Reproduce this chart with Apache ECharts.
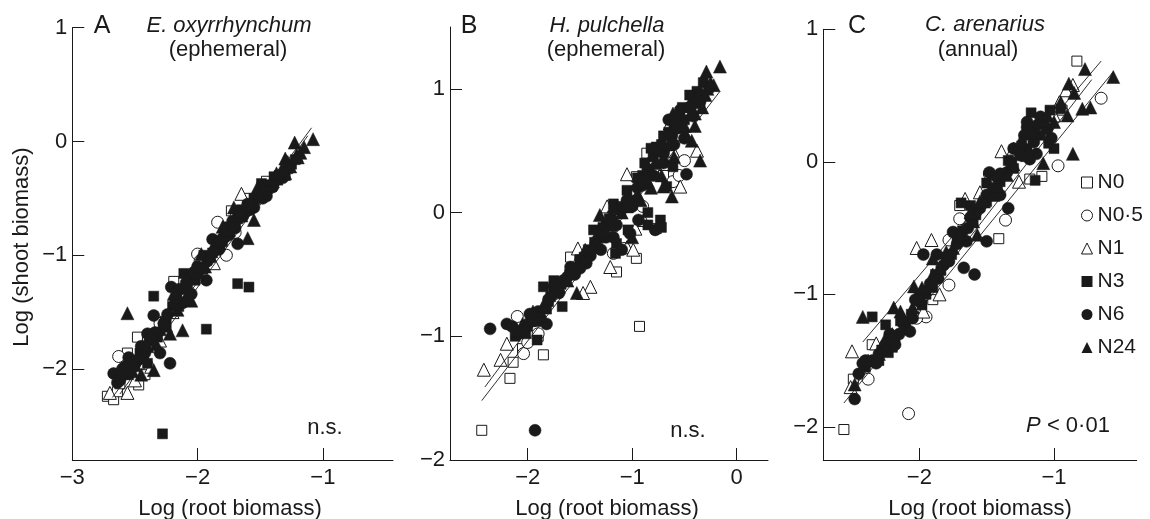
<!DOCTYPE html>
<html><head><meta charset="utf-8">
<script src="https://cdn.jsdelivr.net/npm/echarts@6/dist/echarts.min.js"></script>
<style>html,body{margin:0;padding:0;background:#fff}#c{width:1150px;height:519px}</style>
</head><body><div id="c"></div>
<script>
// ---------- DATA ----------
const seriesNames = ['N0', 'N0·5', 'N1', 'N3', 'N6', 'N24'];

// Panel A: E. oxyrrhynchum
const A_N0 = [[-2.72,-2.24],[-2.67,-2.27],[-2.64,-2.2],[-2.62,-2.13],[-2.56,-1.86],[-2.48,-1.72],[-2.47,-2.14],[-2.42,-2.05],[-2.4,-1.8],[-2.3,-1.6],[-2.19,-1.23],[-2.1,-1.3],[-1.95,-1.05],[-1.73,-0.61],[-1.6,-0.5],[-1.45,-0.35]];
const A_N05 = [[-2.63,-1.89],[-2.55,-2.0],[-2.45,-1.95],[-2.3,-1.6],[-2.0,-0.99],[-1.98,-1.05],[-1.84,-0.71],[-1.77,-1.0],[-1.7,-0.8],[-1.6,-0.6],[-2.15,-1.4],[-1.5,-0.45]];
const A_N1 = [[-2.7,-2.21],[-2.56,-2.21],[-2.5,-2.1],[-2.37,-1.98],[-2.3,-1.75],[-2.1,-1.35],[-1.87,-1.07],[-1.65,-0.46],[-1.7,-0.62],[-1.55,-0.5],[-1.4,-0.35],[-2.2,-1.5]];
const A_N3 = [[-2.28,-2.57],[-2.35,-1.36],[-1.93,-1.65],[-1.68,-1.25],[-1.59,-1.28],[-2.46,-1.86],[-2.4,-1.95],[-2.25,-1.6],[-2.11,-1.16],[-2.05,-1.2],[-1.95,-1.0],[-1.85,-0.9],[-1.75,-0.75],[-1.65,-0.6],[-1.49,-0.37],[-1.42,-0.4],[-1.39,-0.31],[-1.3,-0.3],[-2.55,-2.05],[-2.2,-1.45],[-2.5,-1.98],[-2.32,-1.72],[-2.15,-1.45],[-2.0,-1.15],[-1.9,-1.02],[-1.8,-0.88],[-1.7,-0.72],[-1.55,-0.5],[-1.45,-0.42],[-1.35,-0.3],[-1.25,-0.2],
  [-2.58,-2.05],[-2.44,-1.85],[-2.36,-1.72],[-2.26,-1.58],[-2.18,-1.42],[-2.08,-1.3],[-2.02,-1.22],[-1.96,-1.12],[-1.88,-0.98],[-1.82,-0.92],[-1.76,-0.8],[-1.68,-0.68],[-1.6,-0.58],[-1.52,-0.48],[-1.44,-0.38],[-1.36,-0.34],[-1.28,-0.24],[-1.22,-0.16]];
const A_N6 = [[-2.67,-2.04],[-2.6,-2.0],[-2.5,-1.95],[-2.4,-1.69],[-2.35,-1.53],[-2.3,-1.86],[-2.22,-1.95],[-2.21,-1.28],[-2.15,-1.3],[-2.05,-1.34],[-2.0,-1.1],[-1.93,-1.22],[-1.88,-0.86],[-1.8,-0.85],[-1.68,-0.90],[-1.72,-0.7],[-1.6,-0.55],[-1.5,-0.45],[-2.45,-1.8],[-2.55,-1.9],[-2.62,-2.1],[-2.48,-1.92],[-2.38,-1.75],[-2.27,-1.6],[-2.12,-1.42],[-1.97,-1.12],[-1.83,-0.95],[-1.75,-0.82],[-1.62,-0.62],[-1.55,-0.58],[-1.45,-0.48],
  [-2.64,-2.12],[-2.58,-1.98],[-2.52,-1.98],[-2.42,-1.86],[-2.34,-1.68],[-2.24,-1.52],[-2.17,-1.38],[-2.09,-1.24],[-2.03,-1.15],[-1.92,-1.05],[-1.86,-0.95],[-1.78,-0.84],[-1.7,-0.76],[-1.64,-0.66],[-1.58,-0.6],[-1.48,-0.5],[-1.4,-0.4],[-1.32,-0.32]];
const A_N24 = [[-1.225,-0.01],[-1.078,0.02],[-1.21,-0.12],[-1.30,-0.15],[-1.30,-0.28],[-1.35,-0.3],[-1.45,-0.4],[-1.52,-0.40],[-1.55,-0.69],[-1.60,-0.85],[-1.71,-0.58],[-1.8,-0.75],[-1.97,-0.99],[-2.19,-1.34],[-2.12,-1.66],[-2.22,-1.69],[-2.35,-2.01],[-2.56,-1.51],[-2.45,-2.05],[-2.05,-1.4],[-1.9,-1.0],[-1.65,-0.65],[-1.4,-0.33],[-1.5,-0.45],[-1.62,-0.58],[-1.75,-0.78],[-1.85,-0.88],[-2.0,-1.15],[-2.3,-1.65],[-2.4,-1.8],[-1.28,-0.18],[-1.18,-0.1],[-1.33,-0.25],
  [-2.52,-2.02],[-2.42,-1.9],[-2.33,-1.78],[-2.25,-1.62],[-2.16,-1.48],[-2.1,-1.38],[-1.94,-1.1],[-1.82,-0.86],[-1.72,-0.74],[-1.66,-0.62],[-1.58,-0.56],[-1.48,-0.42],[-1.42,-0.38],[-1.37,-0.28],[-1.26,-0.22],[-1.2,-0.14],[-1.15,-0.05]];
const A_lines = [[[-2.68,-2.25],[-1.09,0.12]],[[-2.62,-2.22],[-1.12,0.05]]];

// Panel B: H. pulchella
const B_N0 = [[-2.44,-1.76],[-0.93,-0.92],[-1.85,-1.15],[-2.17,-1.34],[-2.14,-1.21],[-2.05,-1.1],[-1.9,-1.0],[-1.59,-0.36],[-1.50,-0.38],[-1.15,-0.48],[-0.96,-0.37],[-0.96,0.29],[-0.86,0.48],[-0.77,-0.13],[-0.55,0.7],[-1.3,-0.2],[-0.7,0.3]];
const B_N05 = [[-0.50,0.42],[-2.04,-1.14],[-2.10,-0.84],[-1.18,-0.33],[-1.08,-0.29],[-0.61,0.25],[-0.45,0.85],[-0.80,0.42],[-1.5,-0.4],[-1.90,-0.98],[-2.0,-1.05],[-0.9,0.05],[-0.55,0.3]];
const B_N1 = [[-2.42,-1.27],[-2.26,-1.19],[-2.20,-1.06],[-1.40,-0.60],[-1.47,-0.65],[-1.52,-0.29],[-1.21,-0.44],[-1.05,-0.28],[-0.99,-0.30],[-0.97,-0.13],[-0.89,-0.06],[-1.05,0.31],[-0.38,0.50],[-0.61,0.50],[-0.64,0.72],[-0.54,0.21],[-1.24,0.05]];
const B_N3 = [[-1.91,-1.03],[-1.67,-0.76],[-1.85,-0.60],[-1.75,-0.55],[-1.37,-0.14],[-1.18,0.07],[-1.04,-0.14],[-1.16,-0.33],[-0.73,-0.06],[-0.67,0.21],[-0.77,0.53],[-0.35,0.88],[-0.27,1.01],[-0.61,0.37],[-2.0,-0.92],[-1.95,-0.85],[-1.8,-0.72],[-1.72,-0.62],[-1.6,-0.5],[-1.5,-0.38],[-1.42,-0.3],[-1.3,-0.2],[-1.25,-0.1],[-1.1,0.05],[-1.0,0.1],[-0.9,0.3],[-0.8,0.45],[-0.72,0.55],[-0.65,0.65],[-0.5,0.75],[-0.42,0.9],[-0.38,0.98],[-1.15,-0.25],[-0.85,-0.1],
  [-2.12,-1.0],[-2.02,-0.98],[-1.92,-0.88],[-1.82,-0.78],[-1.78,-0.68],[-1.68,-0.58],[-1.56,-0.46],[-1.46,-0.36],[-1.36,-0.24],[-1.28,-0.12],[-1.22,-0.05],[-1.12,0.02],[-1.05,0.18],[-0.95,0.28],[-0.88,0.4],[-0.82,0.52],[-0.7,0.62],[-0.6,0.72],[-0.52,0.85],[-0.45,0.95],[-0.32,1.05],[-0.85,0.0],[-0.72,-0.12]];
const B_N6 = [[-2.36,-0.94],[-1.93,-1.76],[-0.48,0.31],[-0.78,-0.14],[-0.94,-0.06],[-1.59,-0.44],[-1.66,-0.55],[-1.82,-0.90],[-1.98,-0.82],[-1.18,-0.20],[-1.02,-0.17],[-0.54,0.83],[-0.70,0.48],[-1.44,-0.41],[-2.09,-0.98],[-2.2,-0.9],[-2.05,-0.95],[-1.9,-0.8],[-1.75,-0.6],[-1.62,-0.52],[-1.5,-0.45],[-1.35,-0.25],[-1.2,-0.05],[-1.05,0.1],[-0.95,0.2],[-0.85,0.35],[-0.75,0.5],[-0.62,0.62],[-0.55,0.78],[-0.45,0.85],[-0.6,0.55],[-1.1,-0.3],
  [-2.15,-0.92],[-2.0,-0.9],[-1.88,-0.85],[-1.8,-0.7],[-1.7,-0.65],[-1.55,-0.5],[-1.4,-0.35],[-1.3,-0.3],[-1.25,-0.2],[-1.15,-0.1],[-1.0,0.05],[-0.9,0.22],[-0.8,0.3],[-0.7,0.4],[-0.65,0.75],[-0.58,0.68],[-0.5,0.6],[-0.42,0.78],[-0.35,0.9]];
const B_N24 = [[-0.16,1.18],[-0.29,1.14],[-0.22,1.03],[-0.35,0.99],[-0.43,0.58],[-0.35,0.42],[-0.62,0.13],[-0.70,0.21],[-1.31,-0.02],[-1.53,-0.65],[-1.98,-0.87],[-1.18,0.05],[-0.54,0.69],[-0.61,0.80],[-2.05,-0.9],[-1.85,-0.75],[-1.7,-0.6],[-1.45,-0.3],[-1.25,-0.15],[-1.1,0.0],[-0.95,0.15],[-0.85,0.25],[-0.78,0.4],[-0.65,0.55],[-0.5,0.7],[-0.4,0.8],[-0.3,0.95],[-0.25,1.05],[-1.0,-0.2],
  [-2.1,-0.95],[-1.95,-0.8],[-1.78,-0.65],[-1.62,-0.55],[-1.52,-0.42],[-1.38,-0.28],[-1.32,-0.15],[-1.2,-0.1],[-1.05,0.05],[-0.92,0.1],[-0.82,0.2],[-0.72,0.3],[-0.6,0.45],[-0.48,0.62],[-0.4,0.7],[-0.33,0.85],[-0.28,1.0]];
const B_lines = [[[-2.44,-1.52],[-0.16,0.98]],[[-2.41,-1.41],[-0.3,0.98]]];

// Panel C: C. arenarius
const C_N0 = [[-2.56,-2.02],[-0.83,0.76],[-1.09,-0.11],[-1.41,-0.58],[-1.70,-0.33],[-1.90,-1.04],[-2.35,-1.38],[-2.49,-1.64],[-1.18,-0.13],[-0.94,0.39]];
const C_N05 = [[-2.08,-1.90],[-0.65,0.48],[-0.97,-0.03],[-1.36,-0.44],[-1.78,-0.59],[-1.78,-0.93],[-1.95,-1.17],[-2.38,-1.64],[-1.48,-0.09],[-1.70,-0.43],[-1.23,0.10],[-2.02,-1.18]];
const C_N1 = [[-2.50,-1.43],[-2.51,-1.70],[-2.32,-1.37],[-2.02,-0.65],[-1.91,-0.59],[-1.85,-1.0],[-1.97,-1.13],[-1.39,0.08],[-1.30,0.10],[-1.55,-0.23],[-1.66,-0.28],[-1.26,-0.15],[-1.0,0.35],[-0.86,0.58],[-0.91,0.54],[-0.96,0.45]];
const C_N3 = [[-2.35,-1.17],[-2.25,-1.23],[-2.23,-1.44],[-1.17,0.37],[-1.03,0.39],[-1.14,-0.14],[-1.34,0.01],[-1.62,-0.33],[-1.69,-0.31],[-1.80,-0.75],[-2.0,-1.0],[-1.04,0.14],[-1.50,-0.16],[-2.14,-1.20],[-2.3,-1.5],[-2.2,-1.4],[-2.1,-1.25],[-1.95,-1.0],[-1.88,-0.85],[-1.8,-0.72],[-1.72,-0.6],[-1.6,-0.45],[-1.5,-0.3],[-1.42,-0.2],[-1.3,-0.05],[-1.2,0.1],[-1.1,0.2],[-0.95,0.4],
  [-2.4,-1.55],[-2.28,-1.42],[-2.18,-1.32],[-2.06,-1.15],[-1.98,-1.08],[-1.9,-0.95],[-1.84,-0.82],[-1.76,-0.7],[-1.68,-0.52],[-1.58,-0.4],[-1.48,-0.25],[-1.4,-0.15],[-1.32,-0.02],[-1.24,0.12],[-1.15,0.25],[-1.08,0.3],[-1.0,0.1]];
const C_N6 = [[-2.48,-1.79],[-2.40,-1.50],[-2.32,-1.52],[-2.07,-1.28],[-1.97,-0.70],[-1.67,-0.80],[-1.59,-0.85],[-1.50,-0.60],[-1.20,0.26],[-1.10,0.34],[-1.40,-0.09],[-1.48,-0.08],[-1.30,0.10],[-1.75,-0.53],[-1.87,-0.70],[-2.03,-1.04],[-2.18,-1.38],[-1.13,0.06],[-1.34,-0.35],[-2.45,-1.6],[-2.35,-1.5],[-2.25,-1.38],[-2.12,-1.22],[-2.0,-1.05],[-1.92,-0.92],[-1.82,-0.78],[-1.7,-0.55],[-1.62,-0.42],[-1.55,-0.35],[-1.45,-0.2],[-1.35,-0.08],[-1.25,0.05],[-1.15,0.15],[-1.05,0.25],[-1.4,-0.25],[-1.65,-0.6],[-1.2,0.3],
  [-2.42,-1.52],[-2.3,-1.45],[-2.22,-1.3],[-2.15,-1.3],[-2.05,-1.18],[-1.96,-0.98],[-1.86,-0.88],[-1.78,-0.75],[-1.72,-0.62],[-1.64,-0.5],[-1.58,-0.38],[-1.5,-0.25],[-1.42,-0.12],[-1.32,0.0],[-1.22,0.2],[-1.12,0.28],[-1.02,0.18],[-1.18,0.02]];
const C_N24 = [[-2.42,-1.17],[-0.77,0.70],[-0.56,0.64],[-0.89,0.59],[-0.73,0.41],[-0.79,0.40],[-0.86,0.06],[-1.08,-0.01],[-1.07,0.31],[-1.57,-0.55],[-1.90,-0.73],[-2.04,-0.94],[-2.19,-1.10],[-2.14,-1.13],[-1.52,-0.30],[-2.48,-1.68],[-2.3,-1.45],[-2.2,-1.3],[-2.05,-1.1],[-1.85,-0.8],[-1.75,-0.65],[-1.6,-0.45],[-1.45,-0.25],[-1.35,-0.1],[-1.2,0.05],[-1.0,0.3],[-0.95,0.45],[-0.85,0.52],
  [-2.38,-1.5],[-2.26,-1.35],[-2.12,-1.18],[-1.98,-0.95],[-1.9,-0.85],[-1.8,-0.68],[-1.7,-0.55],[-1.62,-0.38],[-1.55,-0.3],[-1.42,-0.18],[-1.3,-0.02],[-1.25,0.15],[-1.15,0.22],[-1.05,0.35],[-0.9,0.35]];
const C_lines = [[[-2.42,-1.36],[-0.65,0.76]],[[-2.56,-1.82],[-0.56,0.68]],[[-2.5,-1.72],[-0.72,0.62]]];

// Axis extents and tick labels
const xRangeA = [-3, -0.44], yRangeA = [-2.8, 1];
const xRangeB = [-2.744, 0.3], yRangeB = [-2, 1.5];
const xRangeC = [-2.713, -0.386], yRangeC = [-2.25, 1];
const xTicksA = [-3, -2, -1], yTicksA = [-2, -1, 0, 1];
const xTicksB = [-2, -1, 0], yTicksB = [-2, -1, 0, 1];
const xTicksC = [-2, -1], yTicksC = [-2, -1, 0, 1];

// ---------- CHART ----------
const INK = '#1a1a1a';
const FONT = '"Liberation Sans", Arial, Helvetica, sans-serif';
const FS = 22;
const symbols = ['rect', 'circle', 'triangle', 'rect', 'circle', 'triangle'];
const sizes = [10, 12, 13, 10, 12, 13];
const fills = ['#ffffff', '#ffffff', '#ffffff', INK, INK, INK];
const fmt = v => (v < 0 ? '\u2212' + Math.abs(v) : String(v));

const panels = [
  { data: [A_N0, A_N05, A_N1, A_N3, A_N6, A_N24], lines: A_lines, xr: xRangeA, yr: yRangeA, xt: xTicksA, yt: yTicksA,
    grid: { left: 72.3, top: 27.7, width: 320.7, height: 432.3 } },
  { data: [B_N0, B_N05, B_N1, B_N3, B_N6, B_N24], lines: B_lines, xr: xRangeB, yr: yRangeB, xt: xTicksB, yt: yTicksB,
    grid: { left: 450, top: 27, width: 318, height: 433 } },
  { data: [C_N0, C_N05, C_N1, C_N3, C_N6, C_N24], lines: C_lines, xr: xRangeC, yr: yRangeC, xt: xTicksC, yt: yTicksC,
    grid: { left: 823.3, top: 29.3, width: 313.4, height: 430.7 } }
];

const grids = [], xAxes = [], yAxes = [], series = [];
panels.forEach((p, i) => {
  grids.push(p.grid);
  const common = {
    type: 'value', gridIndex: i, splitLine: { show: false },
    axisLine: { show: true, onZero: false, lineStyle: { color: INK, width: 1 } },
    axisTick: { show: true, inside: true, length: 12, lineStyle: { color: INK, width: 1 } },
    axisLabel: { color: INK, fontSize: FS, fontFamily: FONT, formatter: fmt }
  };
  xAxes.push(Object.assign({}, common, {
    min: p.xr[0], max: p.xr[1],
    axisTick: Object.assign({}, common.axisTick, { customValues: p.xt }),
    axisLabel: Object.assign({}, common.axisLabel, { customValues: p.xt, margin: 7 })
  }));
  yAxes.push(Object.assign({}, common, {
    min: p.yr[0], max: p.yr[1],
    axisTick: Object.assign({}, common.axisTick, { customValues: p.yt }),
    axisLabel: Object.assign({}, common.axisLabel, { customValues: p.yt, margin: 5 })
  }));
  p.data.forEach((d, k) => {
    series.push({
      type: 'scatter', name: seriesNames[k], xAxisIndex: i, yAxisIndex: i,
      data: d, symbol: symbols[k], symbolSize: sizes[k],
      itemStyle: { color: fills[k], borderColor: INK, borderWidth: k < 3 ? 1 : 0.5, opacity: 1 },
      emphasis: { disabled: true }, silent: true, z: 2 + k * 0.01
    });
  });
  p.lines.forEach(l => {
    series.push({
      type: 'line', xAxisIndex: i, yAxisIndex: i, data: l, symbol: 'none',
      lineStyle: { color: INK, width: 0.9 }, silent: true, z: 3, animation: false
    });
  });
});

const txt = (text, x, y, size, extra) => ({
  type: 'text', x: x, y: y, silent: true,
  style: Object.assign({ text: text, fill: INK, fontSize: size, fontFamily: FONT, align: 'center', verticalAlign: 'middle' }, extra || {})
});

const graphics = [
  Object.assign(txt('Log (shoot biomass)', 22, 247, FS), { rotation: Math.PI / 2 }),
  txt('Log (root biomass)', 230, 509, FS),
  txt('Log (root biomass)', 607, 509, FS),
  txt('Log (root biomass)', 980, 509, FS),
  txt('A', 102, 26, 25), txt('B', 469, 26, 25), txt('C', 857, 26, 25),
  txt('E. oxyrrhynchum', 229, 26, FS, { fontStyle: 'italic' }),
  txt('(ephemeral)', 228, 50, FS),
  txt('H. pulchella', 607, 26, FS, { fontStyle: 'italic' }),
  txt('(ephemeral)', 606, 50, FS),
  txt('C. arenarius', 985, 25, FS, { fontStyle: 'italic' }),
  txt('(annual)', 978, 50, FS),
  txt('n.s.', 325, 428, FS),
  txt('n.s.', 688, 431, FS),
  txt('{i|P} < 0·01', 1068, 426, FS, { rich: { i: { fontStyle: 'italic', fontSize: FS, fontFamily: FONT, fill: INK } } })
];

const chart = echarts.init(document.getElementById('c'), null, { renderer: 'canvas' });
chart.setOption({
  animation: false,
  backgroundColor: '#ffffff',
  textStyle: { fontFamily: FONT },
  grid: grids, xAxis: xAxes, yAxis: yAxes, series: series,
  legend: {
    orient: 'vertical', left: 1081, top: 172, itemWidth: 11, itemHeight: 11, itemGap: 12,
    padding: 0, selectedMode: false,
    textStyle: { fontSize: 21, color: INK, fontFamily: FONT },
    data: seriesNames.map((n, k) => ({
      name: n, icon: symbols[k],
      itemStyle: { color: fills[k], borderColor: INK, borderWidth: k < 3 ? 1 : 0 }
    }))
  },
  graphic: graphics
});
</script>
</body></html>
